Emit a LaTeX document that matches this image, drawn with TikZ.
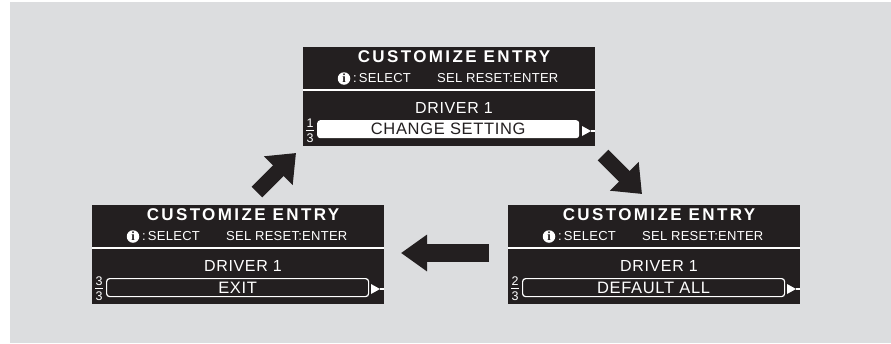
\documentclass[tikz,border=0pt]{standalone}
\usepackage{fontspec}
\setmainfont{Liberation Sans}
\newfontfamily\hdrfont{Liberation Sans}[LetterSpace=14]
\newfontfamily\boxfont{Liberation Sans}[LetterSpace=4]
\newfontfamily\subfont{Liberation Sans}[LetterSpace=2]
\newfontfamily\iconfont{Liberation Serif}
\usetikzlibrary{arrows.meta,calc}
\definecolor{bggrey}{HTML}{DCDDDF}
\definecolor{lcd}{HTML}{231F20}
\tikzset{
 panel/.style={fill=lcd, draw=none, minimum width=292pt, minimum height=99pt, anchor=north west, inner sep=0pt, outer sep=0pt},
 hdr/.style={text=white, font=\hdrfont\bfseries\fontsize{17}{18}\selectfont, inner sep=0pt},
 sub/.style={text=white, font=\subfont\fontsize{13}{14}\selectfont, inner sep=0pt, anchor=west},
 drv/.style={text=white, font=\boxfont\fontsize{16}{18}\selectfont, inner sep=0pt},
 selbox/.style={fill=white, text=lcd, rounded corners=3pt, minimum width=262pt, minimum height=18pt, anchor=north west, inner sep=0pt, font=\boxfont\fontsize{16.5}{18}\selectfont},
 unselbox/.style={selbox, fill=lcd, draw=white, line width=1.2pt, text=white},
 frac/.style={text=white, font=\fontsize{12.5}{13}\selectfont, inner sep=0pt},
 iconc/.style={circle, fill=white, minimum size=12.5pt, inner sep=0pt, text=lcd, font=\iconfont\bfseries\fontsize{12.5}{12.5}\selectfont},
 sepline/.style={draw=white, line width=2pt},
 blk/.style={draw=lcd, line width=15pt, -{Triangle[length=25pt,width=39pt]}},
 blkh/.style={draw=lcd, line width=18pt, -{Triangle[length=26pt,width=35pt]}},
}
% #1 name, #2 x, #3 y, #4 top digit, #5 box text, #6 box style
\newcommand\lcdpanel[6]{%
 \node[panel] (#1) at (#2,#3) {};
 \node[hdr] (#1-h) at ($(#1.north west)+(151,10)$) {CUSTOMIZE ENTRY};
 \node[iconc] (#1-i) at ($(#1.north west)+(41,31.5)$) {i};
 \node[sub] (#1-s1) at ($(#1.north west)+(50,31.5)$) {:\,SELECT};
 \node[sub] (#1-s2) at ($(#1.north west)+(134,31.5)$) {SEL RESET:ENTER};
 \coordinate (#1-l1) at ($(#1.north west)+(0,43)$);
 \coordinate (#1-l2) at ($(#1.north west)+(292,43)$);
 \draw[sepline] (#1-l1) -- (#1-l2);
 \node[drv] (#1-d) at ($(#1.north west)+(151,61)$) {DRIVER 1};
 \node[#6] (#1-b) at ($(#1.north west)+(14,73)$) {#5};
 \node[frac] (#1-f1) at ($(#1.north west)+(7,76)$) {#4};
 \node[frac] (#1-f2) at ($(#1.north west)+(7,91)$) {3};
 \coordinate (#1-fa) at ($(#1.north west)+(3,83.5)$);
 \coordinate (#1-fb) at ($(#1.north west)+(11,83.5)$);
 \draw[white, line width=1pt] (#1-fa) -- (#1-fb);
 \coordinate (#1-t1) at ($(#1.north west)+(279,79)$);
 \coordinate (#1-t2) at ($(#1.north west)+(288,84)$);
 \coordinate (#1-t3) at ($(#1.north west)+(279,89)$);
 \coordinate (#1-t4) at ($(#1.north west)+(292,84)$);
 \fill[white] (#1-t1) -- (#1-t2) -- (#1-t3) -- cycle;
 \draw[white, line width=1.2pt] (#1-t2) -- (#1-t4);
}
\begin{document}
\begin{tikzpicture}[x=1pt,y=-1pt]
\useasboundingbox (0,0) rectangle (891,343);
\fill[white] (0,0) rectangle (891,343);
\fill[bggrey] (10,2) rectangle (891,343);
\lcdpanel{ptop}{303}{47}{1}{CHANGE SETTING}{selbox}
\lcdpanel{pleft}{92}{205}{3}{EXIT}{unselbox}
\lcdpanel{pright}{508}{205}{2}{DEFAULT ALL}{unselbox}
\coordinate (a1s) at (257,192);
\coordinate (a1e) at (296,153);
\coordinate (a2s) at (603,155);
\coordinate (a2e) at (642,194);
\coordinate (a3s) at (489,253);
\coordinate (a3e) at (401,253);
\draw[blk] (a1s) -- (a1e);
\draw[blk] (a2s) -- (a2e);
\draw[blkh] (a3s) -- (a3e);
\end{tikzpicture}
\end{document}
